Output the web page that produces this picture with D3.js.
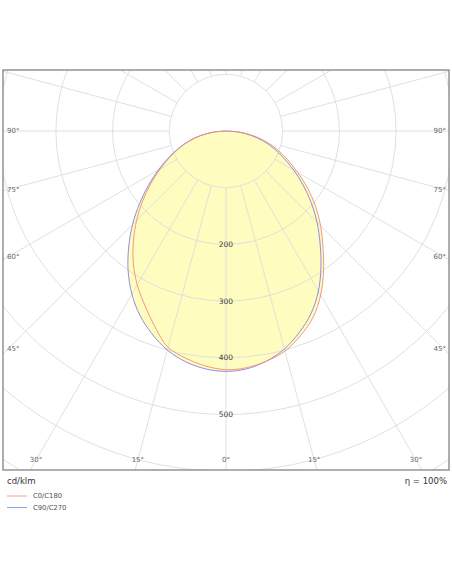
<!DOCTYPE html>
<html>
<head>
<meta charset="utf-8">
<script src="https://cdn.jsdelivr.net/npm/d3@7"></script>
<style>
  html, body { margin: 0; padding: 0; background: #fff; }
  svg text { font-family: 'DejaVu Sans', Verdana, sans-serif; }
</style>
</head>
<body>
<script>

// gamma angles (deg from nadir) and intensities in cd/klm
var gammas = [0, 5, 10, 15, 20, 25, 30, 35, 40, 45, 50, 55, 60, 65, 70, 75, 80, 85, 90]
var c0   = [421, 419, 412, 402, 384, 363, 334, 300, 266, 236, 206, 176, 146, 120, 97, 74, 50, 25, 0]
var c180 = [421, 416, 407, 395, 367, 339, 313, 285, 254, 223, 192, 162, 134, 109, 87, 66, 44, 22, 0]
var c90  = [424, 421, 412, 398, 378, 355, 326, 292, 258, 227, 196, 166, 138, 112, 90, 68, 45, 23, 0]
var c270 = [424, 421, 413, 400, 381, 359, 332, 301, 267, 233, 199, 167, 138, 112, 89, 67, 45, 22, 0]

var rings = [100, 200, 300, 400, 500, 600, 700]
var ringLabels = [200, 300, 400, 500]
var spokeAngles = d3.range(0, 360, 15)
var sideLabels = [90, 75, 60, 45]
var bottomLabels = [-30, -15, 0, 15, 30]

var width = 452
var height = 584
var frame = { left : 3, top : 70, right : 449, bottom : 470 }
var cx = 226
var cy = 131

var r = d3.scaleLinear()
	.domain([0, 100])
	.range([0, 56.7])

var svg = d3.select('body')
	.append('svg')
	.attr('width', width)
	.attr('height', height)

svg.append('defs').append('clipPath')
	.attr('id', 'clip')
	.append('rect')
		.attr('x', frame.left)
		.attr('y', frame.top)
		.attr('width', frame.right - frame.left)
		.attr('height', frame.bottom - frame.top)

var plot = svg.append('g')
	.attr('clip-path', 'url(#clip)')

// point for gamma (deg) on right (side = 1) or left (side = -1)
function pt(g, v, side) {
	var a = g * Math.PI / 180
	return [cx + side * r(v) * Math.sin(a), cy + r(v) * Math.cos(a)]
}

function closedCurve(right, left) {
	var pts = []
	for (var i = gammas.length - 1; i >= 0; i--)
		pts.push(pt(gammas[i], right[i], 1))
	for (var j = 1; j < gammas.length; j++)
		pts.push(pt(gammas[j], left[j], -1))
	return pts
}

var line = d3.line().curve(d3.curveCatmullRom.alpha(0.5))

var curveA = closedCurve(c0, c180)
var curveB = closedCurve(c90, c270)

// fills
plot.selectAll('path.fill')
	.data([curveA, curveB])
	.enter().append('path')
		.attr('class', 'fill')
		.attr('d', d => line(d) + 'Z')
		.attr('fill', '#fefcbe')
		.attr('stroke', 'none')

// grid
var grid = plot.append('g')
	.attr('stroke', '#dcdcdc')
	.attr('stroke-width', 0.9)
	.attr('fill', 'none')

grid.selectAll('circle')
	.data(rings)
	.enter().append('circle')
		.attr('cx', cx)
		.attr('cy', cy)
		.attr('r', d => r(d))

grid.selectAll('line')
	.data(spokeAngles)
	.enter().append('line')
		.attr('x1', d => pt(d, 100, 1)[0])
		.attr('y1', d => pt(d, 100, 1)[1])
		.attr('x2', d => pt(d, 1000, 1)[0])
		.attr('y2', d => pt(d, 1000, 1)[1])

// curves
plot.append('path')
	.attr('d', line(curveB))
	.attr('fill', 'none')
	.attr('stroke', '#8080ee')
	.attr('stroke-width', 0.9)

plot.append('path')
	.attr('d', line(curveA))
	.attr('fill', 'none')
	.attr('stroke', '#f28c7c')
	.attr('stroke-width', 0.9)

// ring labels
svg.selectAll('text.ring')
	.data(ringLabels)
	.enter().append('text')
		.attr('class', 'ring')
		.attr('x', cx)
		.attr('y', d => cy + r(d))
		.attr('dy', '0.35em')
		.attr('text-anchor', 'middle')
		.attr('font-size', 7.5)
		.attr('fill', '#444')
		.text(d => d)

// angle labels on the left/right sides
var inner = { left : 8, right : 444, bottom : 460 }

sideLabels.forEach(function (g) {
	var a = g * Math.PI / 180
	var y = cy + (cx - inner.left) * Math.cos(a) / Math.sin(a)
	svg.append('text')
		.attr('x', inner.left - 1)
		.attr('y', y)
		.attr('dy', '0.35em')
		.attr('font-size', 7)
		.attr('fill', '#666')
		.text(g + '°')
	svg.append('text')
		.attr('x', inner.right + 2)
		.attr('y', y)
		.attr('dy', '0.35em')
		.attr('text-anchor', 'end')
		.attr('font-size', 7)
		.attr('fill', '#666')
		.text(g + '°')
})

bottomLabels.forEach(function (g) {
	var a = g * Math.PI / 180
	svg.append('text')
		.attr('x', cx + (inner.bottom - cy) * Math.tan(a))
		.attr('y', inner.bottom)
		.attr('dy', '0.35em')
		.attr('text-anchor', 'middle')
		.attr('font-size', 7)
		.attr('fill', '#666')
		.text(Math.abs(g) + '°')
})

// frame
svg.append('rect')
	.attr('x', frame.left)
	.attr('y', frame.top)
	.attr('width', frame.right - frame.left)
	.attr('height', frame.bottom - frame.top)
	.attr('fill', 'none')
	.attr('stroke', '#8c8c8c')
	.attr('stroke-width', 1.4)

svg.append('text')
	.attr('x', 7)
	.attr('y', 484)
	.attr('font-size', 8.5)
	.attr('fill', '#333')
	.text('cd/klm')

svg.append('text')
	.attr('x', 447)
	.attr('y', 484)
	.attr('text-anchor', 'end')
	.attr('font-size', 8.5)
	.attr('fill', '#333')
	.text('η = 100%')

// legend
var legend = [
	{ name : 'C0/C180', color : '#f28c7c' },
	{ name : 'C90/C270', color : '#8080ee' }
]

var lg = svg.selectAll('g.legend')
	.data(legend)
	.enter().append('g')
		.attr('class', 'legend')
		.attr('transform', (d, i) => `translate(7, ${496 + i * 11.5})`)

lg.append('line')
	.attr('x1', 0)
	.attr('x2', 20)
	.attr('stroke', d => d.color)
	.attr('stroke-width', 0.8)

lg.append('text')
	.attr('x', 26)
	.attr('dy', '0.35em')
	.attr('font-size', 6.8)
	.attr('fill', '#555')
	.text(d => d.name)

</script>
</body>
</html>
